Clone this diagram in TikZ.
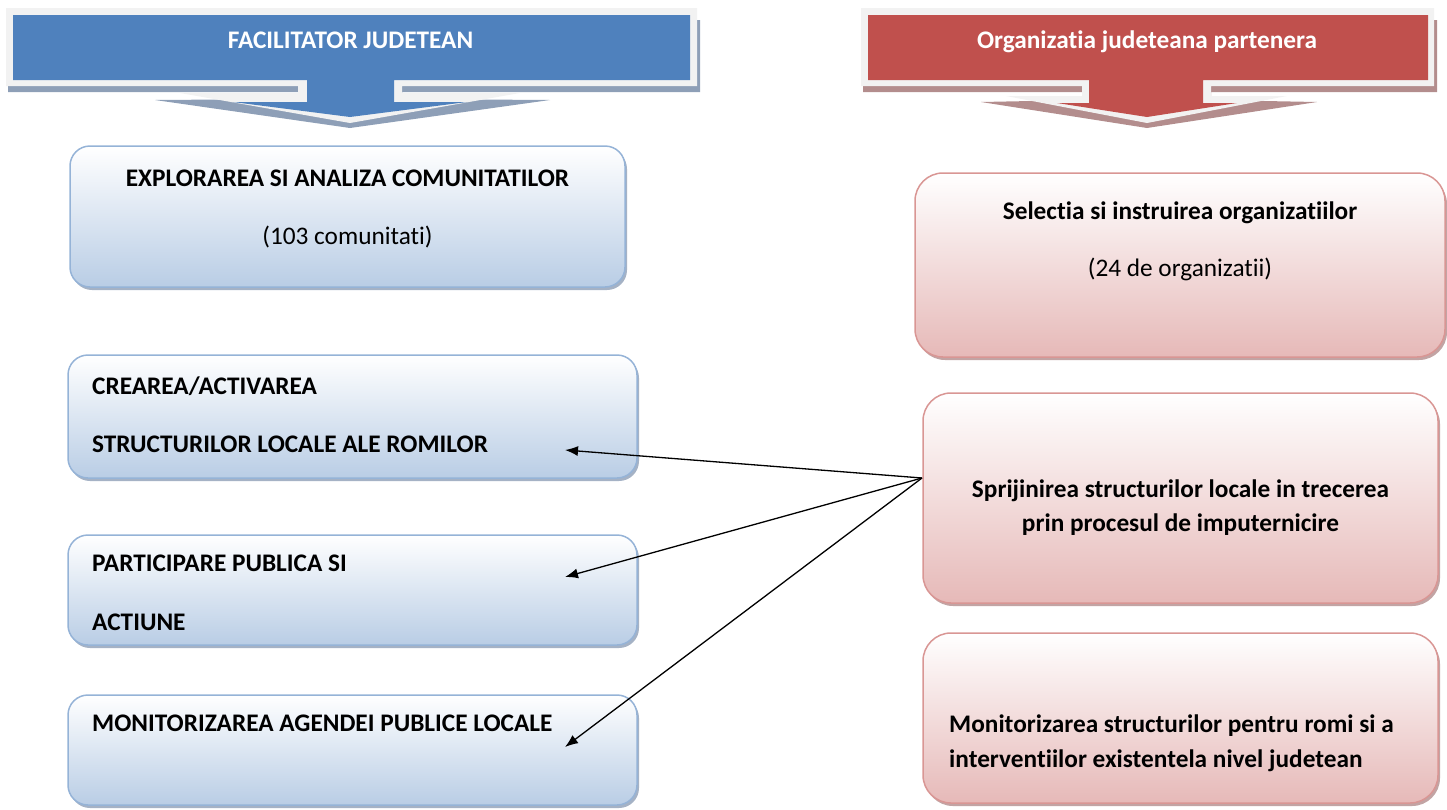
\documentclass[tikz,border=0pt]{standalone}
\usepackage{fontspec}
\setmainfont{Carlito}[Ligatures={NoCommon,NoRare,NoContextual}]
\usepackage{xcolor}
\usetikzlibrary{arrows.meta,shadows}
\definecolor{hdrblue}{HTML}{4F81BD}
\definecolor{hdrred}{HTML}{C0504D}
\definecolor{bandgray}{HTML}{F2F2F2}
\definecolor{shblue}{HTML}{8E9FB7}
\definecolor{shred}{HTML}{B38D8D}
\definecolor{boxblue}{HTML}{B9CDE5}
\definecolor{lineblue}{HTML}{95B3D7}
\definecolor{boxred}{HTML}{E6B9B8}
\definecolor{linered}{HTML}{D99694}

\begin{document}
\begin{tikzpicture}[x=1pt,y=-1pt,
    bluebox/.style={draw=lineblue, line width=1.5pt, rounded corners=20pt,
        top color=white, bottom color=boxblue, inner sep=0pt,
        drop shadow={shadow xshift=2pt, shadow yshift=-3pt, fill=shblue, opacity=0.8}},
    redbox/.style={draw=linered, line width=1.5pt, rounded corners=28pt,
        top color=white, bottom color=boxred, inner sep=0pt,
        drop shadow={shadow xshift=2pt, shadow yshift=-3pt, fill=shred, opacity=0.8}},
    txt/.style={font=\fontsize{25.3}{30}\selectfont\bfseries, inner sep=0pt},
    plain/.style={font=\fontsize{25.3}{30}\selectfont, inner sep=0pt},
    link/.style={-{Latex[length=13pt,width=10pt]}, line width=1.3pt, black}]
    \useasboundingbox (0,0) rectangle (1447,809);

    % header arrows
    \fill[shblue] (8,20) -- (700,20) -- (700,92) -- (402,92) -- (402,99) -- (550,100)
        -- (350,128) -- (155,100) -- (298,99) -- (298,92) -- (8,92) -- cycle;
    \fill[bandgray] (6,8) -- (697,8) -- (697,86) -- (402,86) -- (402,93) -- (520,93)
        -- (350,123) -- (180,93) -- (298,93) -- (298,86) -- (6,86) -- cycle;
    \fill[hdrblue] (13,15) -- (690,15) -- (690,80) -- (394,80) -- (394,102) -- (467,102)
        -- (350,117) -- (233,102) -- (307,102) -- (307,80) -- (13,80) -- cycle;
    \node[txt, white, anchor=base] (hleft) at (350.5,48) {FACILITATOR JUDETEAN};

    \fill[shred] (863,20) -- (1437,20) -- (1437,92) -- (1211,92) -- (1211,100) -- (1317,102)
        -- (1147,128) -- (981,102) -- (1082,100) -- (1082,92) -- (863,92) -- cycle;
    \fill[bandgray] (861,8) -- (1434,8) -- (1434,86) -- (1211,86) -- (1211,96) -- (1287,96)
        -- (1147,123) -- (1006,96) -- (1082,96) -- (1082,86) -- (861,86) -- cycle;
    \fill[hdrred] (868,15) -- (1428,15) -- (1428,80) -- (1203,80) -- (1203,103) -- (1237,103)
        -- (1147,117) -- (1057,103) -- (1089,103) -- (1089,80) -- (868,80) -- cycle;
    \node[txt, white, anchor=base] (hright) at (1147,48) {Organizatia judeteana partenera};

    % left column
    \node[bluebox, minimum width=555pt, minimum height=141pt] (b1) at (347.5,216.5) {};
    \node[bluebox, minimum width=569pt, minimum height=123pt] (b2) at (352.5,416.5) {};
    \node[bluebox, minimum width=569pt, minimum height=110pt] (b3) at (352.5,590) {};
    \node[bluebox, minimum width=569pt, minimum height=110pt] (b4) at (352.5,750) {};
    \node[txt, anchor=base] (b1a) at (347.5,186) {EXPLORAREA SI ANALIZA COMUNITATILOR};
    \node[plain, anchor=base] (b1b) at (347.5,244) {(103 comunitati)};
    \node[txt, anchor=base west] (b2a) at (92,394) {CREAREA/ACTIVAREA};
    \node[txt, anchor=base west] (b2b) at (92,452) {STRUCTURILOR LOCALE ALE ROMILOR};
    \node[txt, anchor=base west] (b3a) at (92,571) {PARTICIPARE PUBLICA SI};
    \node[txt, anchor=base west] (b3b) at (92,630) {ACTIUNE};
    \node[txt, anchor=base west] (b4a) at (92,731) {MONITORIZAREA AGENDEI PUBLICE LOCALE};

    % right column
    \node[redbox, minimum width=530pt, minimum height=184pt] (r1) at (1180,265) {};
    \node[redbox, minimum width=515pt, minimum height=210pt] (r2) at (1180.5,498) {};
    \node[redbox, minimum width=515pt, minimum height=170pt] (r3) at (1180.5,718) {};
    \node[txt, anchor=base] (r1a) at (1180,219) {Selectia si instruirea organizatiilor};
    \node[plain, anchor=base] (r1b) at (1180,276) {(24 de organizatii)};
    \node[txt, anchor=base] (r2a) at (1180.5,497) {Sprijinirea structurilor locale in trecerea};
    \node[txt, anchor=base] (r2b) at (1180.5,531) {prin procesul de imputernicire};
    \node[txt, anchor=base west] (r3a) at (949,732) {Monitorizarea structurilor pentru romi si a};
    \node[txt, anchor=base west] (r3b) at (949,767) {interventiilor existentela nivel judetean};

    % connectors
    \coordinate (hub) at (922,478);
    \coordinate (t2) at (565,450);
    \coordinate (t3) at (565,577);
    \coordinate (t4) at (565,747);
    \draw[link] (hub) -- (t2);
    \draw[link] (hub) -- (t3);
    \draw[link] (hub) -- (t4);
\end{tikzpicture}
\end{document}
